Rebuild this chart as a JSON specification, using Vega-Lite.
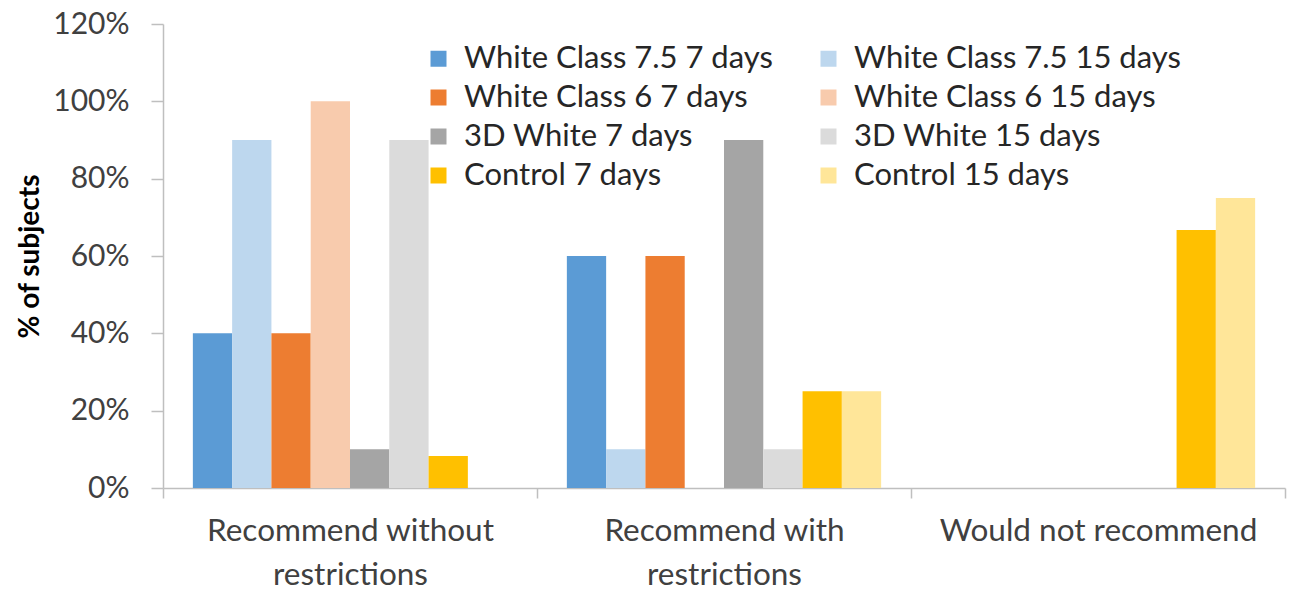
{
  "$schema": "https://vega.github.io/schema/vega-lite/v6.json",
  "width": 1122,
  "height": 464,
  "autosize": {"type": "none"},
  "padding": {"left": 163, "top": 24, "right": 13, "bottom": 104},
  "background": "white",
  "config": {
    "font": "Lato",
    "view": {"stroke": null},
    "axis": {"grid": false, "domainColor": "#BFBFBF", "tickColor": "#BFBFBF", "domainWidth": 1.5, "tickWidth": 1.5, "labelColor": "#404040", "labelFont": "Lato", "labelFontSize": 30}
  },
  "data": {
    "values": [
      {"category": "Recommend without restrictions", "series": "White Class 7.5 7 days", "value": 0.40},
      {"category": "Recommend without restrictions", "series": "White Class 7.5 15 days", "value": 0.90},
      {"category": "Recommend without restrictions", "series": "White Class 6 7 days", "value": 0.40},
      {"category": "Recommend without restrictions", "series": "White Class 6 15 days", "value": 1.00},
      {"category": "Recommend without restrictions", "series": "3D White 7 days", "value": 0.10},
      {"category": "Recommend without restrictions", "series": "3D White 15 days", "value": 0.90},
      {"category": "Recommend without restrictions", "series": "Control 7 days", "value": 0.083},
      {"category": "Recommend without restrictions", "series": "Control 15 days", "value": 0},
      {"category": "Recommend with restrictions", "series": "White Class 7.5 7 days", "value": 0.60},
      {"category": "Recommend with restrictions", "series": "White Class 7.5 15 days", "value": 0.10},
      {"category": "Recommend with restrictions", "series": "White Class 6 7 days", "value": 0.60},
      {"category": "Recommend with restrictions", "series": "White Class 6 15 days", "value": 0},
      {"category": "Recommend with restrictions", "series": "3D White 7 days", "value": 0.90},
      {"category": "Recommend with restrictions", "series": "3D White 15 days", "value": 0.10},
      {"category": "Recommend with restrictions", "series": "Control 7 days", "value": 0.25},
      {"category": "Recommend with restrictions", "series": "Control 15 days", "value": 0.25},
      {"category": "Would not recommend", "series": "White Class 7.5 7 days", "value": 0},
      {"category": "Would not recommend", "series": "White Class 7.5 15 days", "value": 0},
      {"category": "Would not recommend", "series": "White Class 6 7 days", "value": 0},
      {"category": "Would not recommend", "series": "White Class 6 15 days", "value": 0},
      {"category": "Would not recommend", "series": "3D White 7 days", "value": 0},
      {"category": "Would not recommend", "series": "3D White 15 days", "value": 0},
      {"category": "Would not recommend", "series": "Control 7 days", "value": 0.667},
      {"category": "Would not recommend", "series": "Control 15 days", "value": 0.75}
    ]
  },
  "mark": {"type": "bar"},
  "encoding": {
    "x": {
      "field": "category", "type": "nominal", "sort": null,
      "scale": {"paddingInner": 0, "paddingOuter": 0},
      "axis": {"title": null, "labelAngle": 0, "tickBand": "extent", "tickSize": 10, "labelPadding": 17, "labelLineHeight": 44, "labelLimit": 600, "labelFontSize": 31.5,
        "labelExpr": "split(replace(replace(datum.label, 'without ', 'without|'), 'with ', 'with|'), '|')"}
    },
    "xOffset": {
      "field": "series", "type": "nominal",
      "sort": ["White Class 7.5 7 days", "White Class 7.5 15 days", "White Class 6 7 days", "White Class 6 15 days", "3D White 7 days", "3D White 15 days", "Control 7 days", "Control 15 days"],
      "scale": {"paddingInner": 0, "paddingOuter": 0.76}
    },
    "y": {
      "field": "value", "type": "quantitative",
      "scale": {"domain": [0, 1.2], "nice": false},
      "axis": {"title": "% of subjects", "titleFont": "Lato", "titleFontSize": 28, "titleFontWeight": "bold", "titleColor": "#000000", "titlePadding": 8,
        "values": [0, 0.2, 0.4, 0.6, 0.8, 1.0, 1.2], "format": ".0%", "tickSize": 12, "labelPadding": 22}
    },
    "color": {
      "field": "series", "type": "nominal",
      "sort": ["White Class 7.5 7 days", "White Class 7.5 15 days", "White Class 6 7 days", "White Class 6 15 days", "3D White 7 days", "3D White 15 days", "Control 7 days", "Control 15 days"],
      "scale": {"range": ["#5B9BD5", "#BDD7EE", "#ED7D31", "#F8CBAD", "#A5A5A5", "#DBDBDB", "#FFC000", "#FFE699"]},
      "legend": {"title": null, "orient": "none", "direction": "horizontal", "legendX": 260, "legendY": 19, "columns": 2, "columnPadding": 40, "rowPadding": 7,
        "symbolType": "square", "symbolSize": 256, "symbolStrokeWidth": 0, "labelFont": "Lato", "labelFontSize": 31, "labelColor": "#262626", "labelLimit": 500, "labelOffset": 10}
    }
  }
}
